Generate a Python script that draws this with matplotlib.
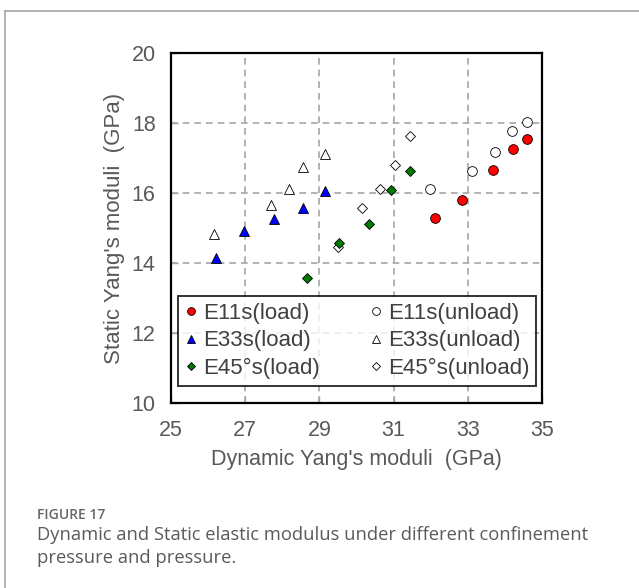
import matplotlib
matplotlib.use("Agg")
import matplotlib.pyplot as plt
from matplotlib.lines import Line2D

plt.rcParams['font.family'] = ['Liberation Sans', 'DejaVu Sans']

# Dynamic (x) vs static (y) Young's moduli, GPa
e11_load_x = [32.12, 32.84, 33.67, 34.22, 34.59]
e11_load_y = [15.28, 15.79, 16.66, 17.26, 17.53]
e11_unload_x = [31.98, 33.10, 33.74, 34.18, 34.59]
e11_unload_y = [16.12, 16.63, 17.16, 17.78, 18.03]

e33_load_x = [26.22, 26.98, 27.78, 28.55, 29.15]
e33_load_y = [14.13, 14.92, 15.25, 15.56, 16.07]
e33_unload_x = [26.17, 27.69, 28.18, 28.55, 29.15]
e33_unload_y = [14.83, 15.67, 16.12, 16.75, 17.11]

e45_load_x = [28.67, 29.53, 30.35, 30.94, 31.45]
e45_load_y = [13.58, 14.57, 15.12, 16.08, 16.63]
e45_unload_x = [29.50, 30.15, 30.64, 31.05, 31.45]
e45_unload_y = [14.47, 15.57, 16.11, 16.80, 17.63]

x_ticks = [25, 27, 29, 31, 33, 35]
y_ticks = [10, 12, 14, 16, 18, 20]

W, H = 639, 588
fig = plt.figure(figsize=(W / 100, H / 100), dpi=100)

# page frame
fig.add_artist(Line2D([5 / W, 1], [1 - 10.5 / H, 1 - 10.5 / H], color='#a6a6a6', lw=1.2))
fig.add_artist(Line2D([5 / W, 5 / W], [0, 1 - 10.5 / H], color='#a6a6a6', lw=1.2))

ax = fig.add_axes([171 / W, 1 - 403 / H, 371 / W, 350 / H])

text_col = '#595959'
ms = 7
edge = dict(markeredgecolor='black', markeredgewidth=0.6, linestyle='none')

h_e11l, = ax.plot(e11_load_x, e11_load_y, 'o', color='red', ms=ms, zorder=4, **edge)
h_e33l, = ax.plot(e33_load_x, e33_load_y, '^', color='#0000ff', ms=ms + 0.5, zorder=4, **edge)
h_e45l, = ax.plot(e45_load_x, e45_load_y, 'D', color='#007a00', ms=5.2, zorder=4, **edge)
h_e11u, = ax.plot(e11_unload_x, e11_unload_y, 'o', color='white', ms=ms, zorder=3, **edge)
h_e33u, = ax.plot(e33_unload_x, e33_unload_y, '^', color='white', ms=ms + 0.5, zorder=3, **edge)
h_e45u, = ax.plot(e45_unload_x, e45_unload_y, 'D', color='white', ms=5.2, zorder=3, **edge)

ax.set_xlim(25, 35)
ax.set_ylim(10, 20)
ax.set_xticks(x_ticks)
ax.set_yticks(y_ticks)
ax.grid(True, color='#a6a6a6', linestyle=(0, (4, 3)), linewidth=1.2)
ax.set_axisbelow(True)
for s in ax.spines.values():
    s.set_linewidth(1.6)
    s.set_color('black')
ax.tick_params(direction='in', length=5, color='#a6a6a6', width=1,
               labelsize=15.5, labelcolor=text_col)
ax.tick_params(axis='x', pad=12)
ax.tick_params(axis='y', pad=11)

ax.set_xlabel("Dynamic Yang's moduli  (GPa)", fontsize=15.5, color=text_col, labelpad=6)
ax.set_ylabel("Static Yang's moduli  (GPa)", fontsize=16, color=text_col, labelpad=5)

leg = ax.legend([h_e11l, h_e33l, h_e45l, h_e11u, h_e33u, h_e45u],
                ['E11s(load)', 'E33s(load)', 'E45°s(load)',
                 'E11s(unload)', 'E33s(unload)', 'E45°s(unload)'],
                ncol=2, loc='center', mode='expand',
                bbox_to_anchor=(0.019, 0.049, 0.965, 0.257),
                fontsize=16, frameon=True, fancybox=False,
                handlelength=0.6, handletextpad=0.25, labelspacing=0.3,
                borderpad=0.3, markerscale=0.8, borderaxespad=0)
leg.get_frame().set_edgecolor('black')
leg.get_frame().set_linewidth(1.4)
leg.set_zorder(5)
for t in leg.get_texts():
    t.set_color('#404040')
for h in leg.legend_handles:
    h.set_markeredgewidth(0.6)

fig.text(37 / W, 1 - 515 / H, 'FIGURE 17', fontsize=10, color='#666666',
         fontfamily='Open Sans', fontweight='semibold', va='center', ha='left')
fig.text(37 / W, 1 - 535 / H,
         'Dynamic and Static elastic modulus under different confinement',
         fontsize=13.2, color='#5a5a5a', fontfamily='Open Sans', va='center', ha='left')
fig.text(37 / W, 1 - 558 / H, 'pressure and pressure.',
         fontsize=13.2, color='#5a5a5a', fontfamily='Open Sans', va='center', ha='left')

fig.savefig('out.png', dpi=100)
